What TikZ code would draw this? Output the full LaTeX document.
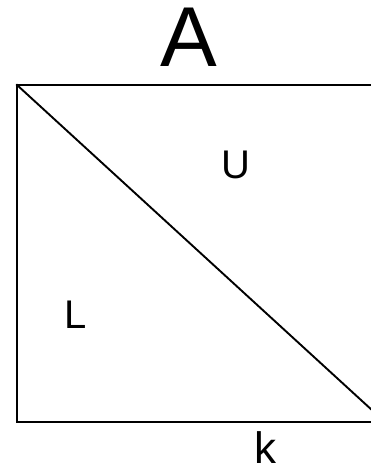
\documentclass[tikz,border=0pt]{standalone}
\usepackage{fontspec}
\setmainfont{Liberation Sans}

\begin{document}
\begin{tikzpicture}[x=1pt,y=-1pt]
\tikzset{
  boxline/.style={draw=black,line width=1.9pt,line cap=rect,line join=miter},
  biglabel/.style={inner sep=0pt,font=\fontsize{85}{85}\selectfont},
  partlabel/.style={inner sep=0pt,font=\fontsize{40}{40}\selectfont}
}
\useasboundingbox (0,0) rectangle (371,468);
\clip (0,0) rectangle (371,468);
\coordinate (c_tl) at (17,85);
\coordinate (c_tr) at (385,85);
\coordinate (c_br) at (385,422);
\coordinate (c_bl) at (17,422);
\draw[boxline] (c_tl) -- (c_tr) -- (c_br) -- (c_bl) -- cycle;
\draw[boxline] (c_tl) -- (c_br);
\node[biglabel] (n_A) at (188.5,37.5) {A};
\node[partlabel] (n_U) at (235.5,164.5) {U};
\node[partlabel] (n_L) at (75.5,314.5) {L};
\node[partlabel,font=\fontsize{44}{44}\selectfont] (n_k) at (265.5,448) {k};
\end{tikzpicture}
\end{document}
